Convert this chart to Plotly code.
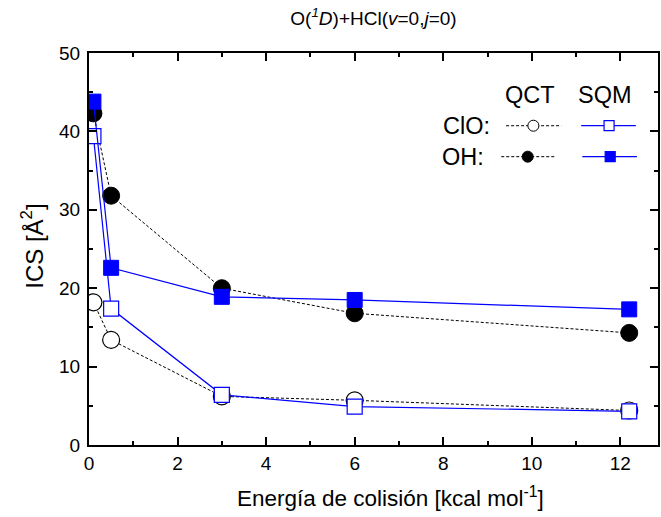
import plotly.graph_objects as go

# Collision energies (kcal/mol) and integral cross sections (Å^2)
energy = [0.1, 0.5, 3.0, 6.0, 12.2]
qct_clo = [18.2, 13.4, 6.2, 5.7, 4.4]
qct_oh = [42.3, 31.8, 20.0, 16.8, 14.3]
sqm_clo = [39.4, 17.4, 6.4, 4.9, 4.3]
sqm_oh = [43.8, 22.6, 18.9, 18.5, 17.3]

FONT = "Liberation Sans, Arial, sans-serif"
BLUE = "#0000ff"
DASH = "3px,2px"

fig = go.Figure()

# QCT curves: black dashed lines with circles
fig.add_trace(go.Scatter(
    x=energy, y=qct_clo, mode="lines+markers",
    line=dict(color="black", width=1, dash=DASH),
    marker=dict(symbol="circle", size=17, color="white",
                line=dict(color="black", width=1.2)),
))
fig.add_trace(go.Scatter(
    x=energy, y=qct_oh, mode="lines+markers",
    line=dict(color="black", width=1, dash=DASH),
    marker=dict(symbol="circle", size=17, color="black",
                line=dict(color="black", width=1)),
))
# SQM curves: blue solid lines with squares
fig.add_trace(go.Scatter(
    x=energy, y=sqm_clo, mode="lines+markers",
    line=dict(color=BLUE, width=1.2),
    marker=dict(symbol="square", size=15, color="white",
                line=dict(color=BLUE, width=1.2)),
))
fig.add_trace(go.Scatter(
    x=energy, y=sqm_oh, mode="lines+markers",
    line=dict(color=BLUE, width=1.2),
    marker=dict(symbol="square", size=15, color=BLUE,
                line=dict(color=BLUE, width=1)),
))

# Hand-drawn key on an overlay axis spanning the plot area (0..1)
key_rows = [
    # (y, qct line x0, x1, qct marker x, sqm line x0, x1, sqm marker x, filled)
    (0.8145, 0.733, 0.830, 0.781, 0.865, 0.961, 0.914, False),
    (0.7355, 0.7245, 0.819, 0.771, 0.867, 0.963, 0.916, True),
]
for yk, qa, qb, qm, sa, sb, sm, filled in key_rows:
    fig.add_trace(go.Scatter(
        x=[qa, qb], y=[yk, yk], mode="lines", xaxis="x2", yaxis="y2",
        line=dict(color="black", width=1, dash=DASH)))
    fig.add_trace(go.Scatter(
        x=[qm], y=[yk], mode="markers", xaxis="x2", yaxis="y2",
        marker=dict(symbol="circle", size=11,
                    color="black" if filled else "white",
                    line=dict(color="black", width=1))))
    fig.add_trace(go.Scatter(
        x=[sa, sb], y=[yk, yk], mode="lines", xaxis="x2", yaxis="y2",
        line=dict(color=BLUE, width=1.2)))
    fig.add_trace(go.Scatter(
        x=[sm], y=[yk], mode="markers", xaxis="x2", yaxis="y2",
        marker=dict(symbol="square", size=10,
                    color=BLUE if filled else "white",
                    line=dict(color=BLUE, width=1.2))))

key_font = dict(family=FONT, size=23.5, color="black")
title_font = dict(family=FONT, size=22.5, color="black")
annotations = [
    dict(x=0.775, y=0.893, text="QCT", xanchor="center", font=key_font),
    dict(x=0.907, y=0.893, text="SQM", xanchor="center", font=key_font),
    dict(x=0.7075, y=0.8145, text="ClO:", xanchor="right", font=key_font),
    dict(x=0.697, y=0.7355, text="OH:", xanchor="right", font=key_font),
    # axis titles
    dict(x=0.5307, y=-0.1327, text="Energía de colisión [kcal mol<sup>-1</sup>]",
         xanchor="center", font=title_font),
    dict(x=-0.1, y=0.506, text="ICS [Å<sup>2</sup>]", textangle=-90,
         xanchor="center", font=dict(family=FONT, size=24, color="black")),
]
for a in annotations:
    a.update(xref="paper", yref="paper", yanchor="middle", showarrow=False)

axis_common = dict(
    showline=True, linecolor="black", linewidth=2, mirror="allticks",
    ticks="inside", ticklen=8, tickwidth=1.5, tickcolor="black",
    showgrid=False, zeroline=False,
    tickfont=dict(family=FONT, size=19, color="black"),
)

fig.update_layout(
    width=661, height=517,
    margin=dict(l=89, r=1, t=53, b=72),
    paper_bgcolor="white", plot_bgcolor="white",
    showlegend=False,
    title=dict(text="O(<i><sup>1</sup>D</i>)+HCl(<i>v</i>=0,<i>j</i>=0)",
               x=0.5, xref="paper", xanchor="center",
               y=1 - 18 / 517, yanchor="middle",
               font=dict(family=FONT, size=19, color="black")),
    xaxis=dict(range=[0, 12.85], tickvals=[0, 2, 4, 6, 8, 10, 12],
               minor=dict(dtick=1, tick0=0, ticks="inside", ticklen=4,
                          tickwidth=1.5, tickcolor="black"),
               **axis_common),
    yaxis=dict(range=[0, 50], tickvals=[0, 10, 20, 30, 40, 50],
               minor=dict(dtick=5, tick0=0, ticks="inside", ticklen=4,
                          tickwidth=1.5, tickcolor="black"),
               ticklabelstandoff=3,
               **axis_common),
    xaxis2=dict(range=[0, 1], overlaying="x", visible=False, fixedrange=True),
    yaxis2=dict(range=[0, 1], overlaying="y", visible=False, fixedrange=True),
    annotations=annotations,
)

fig.write_html("out.html")
